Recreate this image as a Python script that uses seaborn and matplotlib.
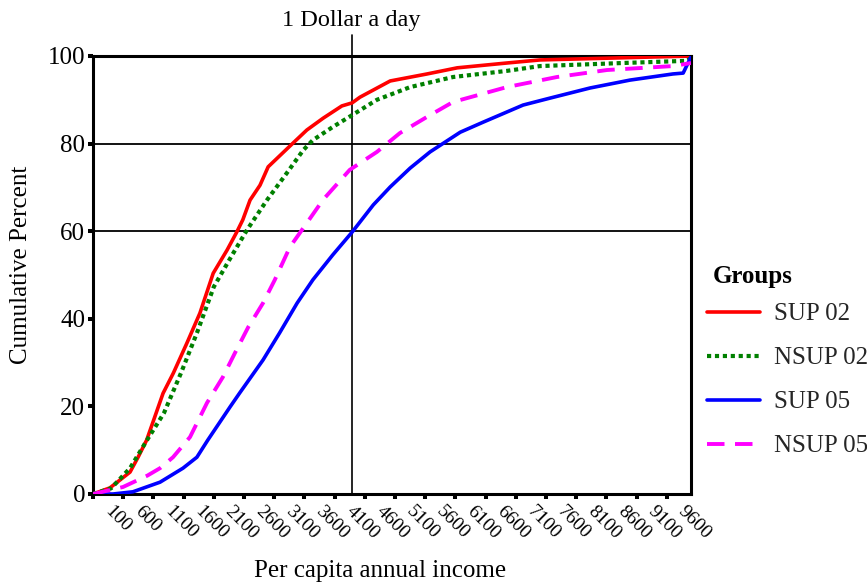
import matplotlib
matplotlib.use("Agg")
import matplotlib.pyplot as plt
import matplotlib.transforms as mtransforms
import pandas as pd
import seaborn as sns

# ---- data ----
sup02_x = [100, 380, 547, 713, 850, 988, 1260, 1430, 1656, 1870, 2090, 2320, 2480, 2580, 2700,
           2865, 3000, 3410, 3640, 3910, 4220, 4390, 4520, 5020, 5630, 6130, 6950, 7500, 8610, 10000]
sup02_y = [0, 1.4, 3.2, 5.0, 8.5, 12.3, 23.0, 27.6, 34.5, 41.3, 50.4, 55.7, 59.8, 62.6, 67.1,
           70.5, 74.7, 80.1, 83.1, 85.8, 88.6, 89.3, 90.6, 94.3, 95.9, 97.3, 98.4, 99.1, 99.5, 100]

nsup02_x = [100, 400, 713, 994, 1275, 1556, 1821, 2100, 2384, 2650, 2980, 3310, 3580, 3740,
            4070, 4390, 4800, 5350, 6060, 6950, 7500, 8870, 9930, 10000]
nsup02_y = [0, 1.3, 5.9, 12.3, 18.5, 27.6, 36.8, 47.3, 54.1, 60.3, 67.1, 73.3, 78.5, 80.8,
            83.8, 86.5, 90.0, 92.9, 95.2, 96.6, 97.7, 98.4, 98.9, 99.5]

sup05_x = [100, 430, 760, 1210, 1590, 1820, 2000, 2370, 2530, 2915, 3190, 3480, 3740, 4070,
           4390, 4740, 5020, 5350, 5680, 6180, 6560, 7220, 7670, 8330, 8990, 9700, 9870, 10000]
sup05_y = [0, 0, 0.5, 2.7, 5.9, 8.4, 12.3, 19.9, 23.1, 30.6, 36.8, 43.6, 48.9, 54.6,
           59.8, 66.0, 70.1, 74.4, 78.1, 82.6, 84.9, 88.8, 90.4, 92.7, 94.5, 95.9, 96.1, 99.8]

nsup05_x = [100, 597, 1000, 1210, 1425, 1706, 1987, 2250, 2450, 2670, 2915, 3110, 3360, 3560,
            3910, 4350, 4800, 5180, 5630, 6060, 6950, 7780, 8610, 9700, 10000]
nsup05_y = [0, 1.6, 4.2, 5.9, 8.4, 13.0, 20.8, 26.7, 32.2, 38.1, 43.6, 48.9, 56.4, 60.3,
            67.2, 74.0, 78.1, 82.4, 86.1, 89.5, 92.9, 95.2, 96.8, 97.7, 98.4]

group_names = ["SUP 02", "NSUP 02", "SUP 05", "NSUP 05"]
legend_title = "Groups"
x_tick_values = list(range(100, 9601, 500))
x_tick_labels = [str(v) for v in x_tick_values]
y_tick_values = [0, 20, 40, 60, 80, 100]
grid_levels = [60, 80]
dollar_a_day = 4380

# ---- style ----
sns.set_theme(style="white")
plt.rcParams['font.family'] = ['Liberation Serif', 'DejaVu Serif']

fig = plt.figure(figsize=(8.67, 5.83), dpi=100)
ax = fig.add_axes([93 / 867, 1 - 494 / 583, 598 / 867, 438 / 583])

series = [
    (group_names[0], sup02_x, sup02_y, "#FF0000", None, 2.6),
    (group_names[1], nsup02_x, nsup02_y, "#008000", (1.0, 0.9), 3.0),
    (group_names[2], sup05_x, sup05_y, "#0000FF", None, 2.6),
    (group_names[3], nsup05_x, nsup05_y, "#FF00FF", (4.5, 2.7), 2.8),
]

handles = []
for name, xs, ys, color, dash, lw in series:
    df = pd.DataFrame({"income": xs, "percent": ys})
    sns.lineplot(data=df, x="income", y="percent", ax=ax, color=color,
                 linewidth=lw, errorbar=None, legend=False)
    line = ax.lines[-1]
    if dash is not None:
        line.set_dashes(dash)
        line.set_dash_capstyle("butt")
    line.set_label(name)
    line.set_zorder(3)
    handles.append(line)

for lv in grid_levels:
    ax.axhline(lv, color="black", lw=1.3, zorder=2)

ax.axvline(dollar_a_day, ymin=0, ymax=1.048, color="black", lw=1.2, clip_on=False, zorder=2)
ax.text(dollar_a_day, 1.082, "1 Dollar a day", transform=ax.get_xaxis_transform(),
        ha="center", va="center", fontsize=17.5, color="black")

ax.set_xlim(100, 10000)
ax.set_ylim(0, 100)

for sp in ax.spines.values():
    sp.set_visible(True)
    sp.set_color("black")
    sp.set_linewidth(2.2)

ax.set_yticks(y_tick_values)
ax.set_yticklabels([str(v) for v in y_tick_values])
ax.set_xticks(x_tick_values)
ax.set_xticklabels(x_tick_labels)
ax.tick_params(axis="both", which="major", direction="out", length=3.6, width=2.9,
               color="black", labelcolor="black")
ax.tick_params(axis="y", labelsize=18, pad=2)
ax.tick_params(axis="x", labelsize=14, pad=3)
ax.tick_params(left=True, bottom=True, top=False, right=False)

offset = mtransforms.ScaledTranslation(0.2, 0.0, fig.dpi_scale_trans)
for lab in ax.get_xticklabels():
    lab.set_rotation(-45)
    lab.set_ha("left")
    lab.set_va("top")
    lab.set_rotation_mode("anchor")
    lab.set_transform(lab.get_transform() + offset)

ax.set_xlabel("Per capita annual income", fontsize=18, color="black")
ax.xaxis.set_label_coords(0.48, -0.1507)
ax.set_ylabel("Cumulative Percent", fontsize=18, color="black")
ax.yaxis.set_label_coords(-0.102, 0.523)

fig.text(713 / 867, 1 - 277 / 583, legend_title, fontsize=18, fontweight="bold",
         ha="left", va="center", color="black")
leg = fig.legend(handles, group_names, loc="upper left",
                 bbox_to_anchor=(707 / 867, 1 - 303 / 583), frameon=False,
                 fontsize=18, handlelength=2.1, handletextpad=0.6, labelspacing=0.86,
                 borderaxespad=0, borderpad=0)

fig.savefig("out.png", dpi=100)
